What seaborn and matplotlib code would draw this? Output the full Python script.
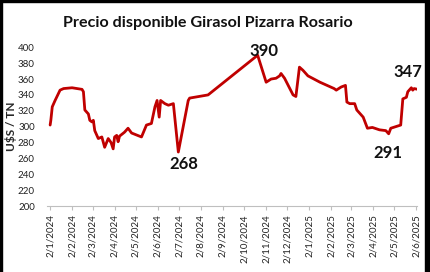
import matplotlib
matplotlib.use("Agg")
import matplotlib.pyplot as plt
from matplotlib.patches import Rectangle
import seaborn as sns
import pandas as pd

dates = [
    "2024-01-02", "2024-01-03", "2024-01-05", "2024-01-09", "2024-01-16", "2024-01-21",
    "2024-02-02", "2024-02-16", "2024-02-18", "2024-02-20", "2024-02-25", "2024-02-27",
    "2024-03-01", "2024-03-03", "2024-03-05", "2024-03-10", "2024-03-15", "2024-03-19",
    "2024-03-24", "2024-03-28", "2024-03-31", "2024-04-02", "2024-04-05", "2024-04-07",
    "2024-04-09", "2024-04-16", "2024-04-21", "2024-04-26", "2024-05-10", "2024-05-17",
    "2024-05-24", "2024-05-29", "2024-06-01", "2024-06-04", "2024-06-06", "2024-06-12",
    "2024-06-17", "2024-06-24", "2024-07-01", "2024-07-15", "2024-07-17", "2024-08-12",
    "2024-10-21", "2024-11-02", "2024-11-09", "2024-11-16", "2024-11-21", "2024-11-23",
    "2024-11-28", "2024-12-10", "2024-12-14", "2024-12-19", "2024-12-24", "2024-12-31",
    "2025-01-17", "2025-02-06", "2025-02-09", "2025-02-16", "2025-02-22", "2025-02-24",
    "2025-02-28", "2025-03-07", "2025-03-10", "2025-03-19", "2025-03-25", "2025-04-01",
    "2025-04-11", "2025-04-20", "2025-04-24", "2025-04-27", "2025-05-11", "2025-05-14",
    "2025-05-19", "2025-05-21", "2025-05-26", "2025-05-28", "2025-05-30", "2025-06-04",
]
prices = [
    302, 308, 325, 333, 346, 348,
    349, 347, 344, 321, 316, 308,
    306, 308, 295, 285, 287, 274,
    285, 280, 272, 287, 289, 281,
    288, 293, 298, 292, 287, 302,
    304, 325, 333, 312, 333, 329,
    327, 329, 268, 333, 336, 340,
    390, 356, 360, 361, 364, 367,
    361, 340, 338, 375, 371, 364,
    356, 348, 346, 350, 352, 331,
    329, 329, 321, 312, 298, 299,
    296, 295, 291, 298, 302, 335,
    337, 344, 349, 346, 348, 347,
]
tick_dates = [
    "2024-01-02", "2024-02-02", "2024-03-02", "2024-04-02", "2024-05-02", "2024-06-02",
    "2024-07-02", "2024-08-02", "2024-09-02", "2024-10-02", "2024-11-02", "2024-12-02",
    "2025-01-02", "2025-02-02", "2025-03-02", "2025-04-02", "2025-05-02", "2025-06-02",
]
tick_labels = [
    "2/1/2024", "2/2/2024", "2/3/2024", "2/4/2024", "2/5/2024", "2/6/2024",
    "2/7/2024", "2/8/2024", "2/9/2024", "2/10/2024", "2/11/2024", "2/12/2024",
    "2/1/2025", "2/2/2025", "2/3/2025", "2/4/2025", "2/5/2025", "2/6/2025",
]
yticks = [200, 220, 240, 260, 280, 300, 320, 340, 360, 380, 400]
title = "Precio disponible Girasol Pizarra Rosario"
ylabel = "U$S / TN"

sns.set_theme(style="white")
plt.rcParams["font.family"] = ["Lato", "DejaVu Sans"]

df = pd.DataFrame({"fecha": pd.to_datetime(dates), "precio": prices})

fig = plt.figure(figsize=(4.3, 2.72), dpi=100)
ax = fig.add_axes([47.3 / 430, 1 - 206 / 272, (417 - 47.3) / 430, (206 - 47.3) / 272])
sns.lineplot(data=df, x="fecha", y="precio", ax=ax, color="#C00000", linewidth=2.0)

ax.set_ylim(200, 400)
ax.set_yticks(yticks)
ax.set_yticklabels([str(v) for v in yticks], fontsize=7, color="#222222")
ax.set_xlim(pd.Timestamp("2023-12-29"), pd.Timestamp("2025-06-03"))
ax.set_xticks(pd.to_datetime(tick_dates))
ax.set_xticklabels(tick_labels, rotation=90, fontsize=7, color="#222222")
ax.tick_params(axis="x", length=3, width=0.8, color="#BFBFBF", pad=3, bottom=True)
ax.tick_params(axis="y", length=0, pad=9)
for s in ["left", "right", "top"]:
    ax.spines[s].set_visible(False)
ax.spines["bottom"].set_color("#BFBFBF")
ax.spines["bottom"].set_linewidth(0.8)
ax.set_xlabel("")
ax.set_ylabel(ylabel, fontsize=8.5, fontweight="bold")
ax.yaxis.set_label_coords(-30 / 370, 0.5)

fig.text(208 / 430, 1 - 23 / 272, title, ha="center", va="center",
         fontsize=11.6, fontweight="bold", color="#111111")

# annotations
fx = df["fecha"]
py = df["precio"]
i_max = py.idxmax()
i_min = py.idxmin()
i_291 = py[py == 291].index[-1]
i_last = len(py) - 1
ann = [
    (i_max, (6, -1), "baseline"),
    (i_min, (5, -4), "top"),
    (i_291, (-1, -11), "top"),
    (i_last, (-10, 12), "baseline"),
]
for i, off, va in ann:
    ax.annotate(str(py[i]), xy=(fx[i], py[i]), xytext=off, textcoords="offset pixels",
                ha="center", va=va, fontsize=12, fontweight="bold", color="#111111",
                annotation_clip=False)

# frame edges
fig.patches.append(Rectangle((0, 0), 2 / 430, 1, transform=fig.transFigure, color="black", zorder=10))
fig.patches.append(Rectangle((0, 1 - 1.5 / 272), 1, 1.5 / 272, transform=fig.transFigure, color="black", zorder=10))
fig.patches.append(Rectangle((425 / 430, 0), 5 / 430, 1, transform=fig.transFigure, color="black", zorder=10))

fig.savefig("out.png", dpi=100)
